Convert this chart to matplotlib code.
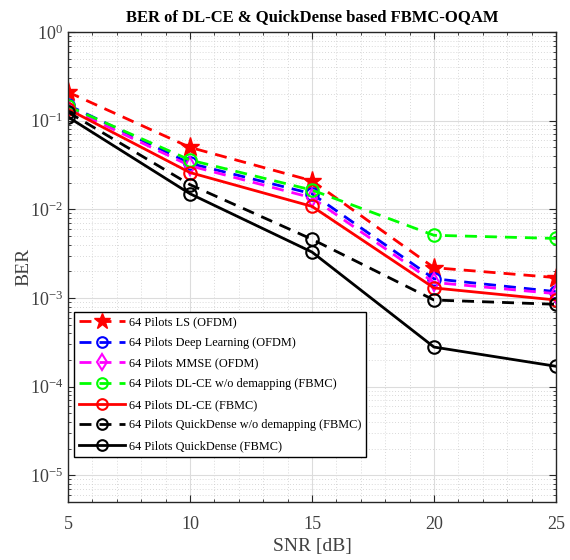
import matplotlib
matplotlib.use("Agg")
import matplotlib.pyplot as plt
from matplotlib.ticker import LogLocator, MultipleLocator, NullFormatter

plt.rcParams['font.family'] = ['Liberation Serif', 'DejaVu Serif']
plt.rcParams['mathtext.fontset'] = 'custom'
plt.rcParams['mathtext.rm'] = 'Liberation Serif'

snr = [5, 10, 15, 20, 25]
ber_ls = [0.21, 0.050, 0.021, 0.0022, 0.0017]
ber_dl = [0.150, 0.033, 0.0150, 0.00165, 0.00118]
ber_mmse = [0.140, 0.031, 0.0135, 0.00150, 0.00112]
ber_dlce_nodemap = [0.145, 0.036, 0.0165, 0.0051, 0.0047]
ber_dlce = [0.135, 0.026, 0.0108, 0.0013, 0.00095]
ber_qd_nodemap = [0.125, 0.019, 0.0046, 0.00095, 0.00085]
ber_qd = [0.110, 0.015, 0.0033, 0.00028, 0.00017]

labels = ['64 Pilots LS (OFDM)',
          '64 Pilots Deep Learning (OFDM)',
          '64 Pilots MMSE (OFDM)',
          '64 Pilots DL-CE w/o demapping (FBMC)',
          '64 Pilots DL-CE (FBMC)',
          '64 Pilots QuickDense w/o demapping (FBMC)',
          '64 Pilots QuickDense (FBMC)']

dash = (4.3, 2.9)

fig = plt.figure(figsize=(5.7, 5.6), dpi=100)
ax = fig.add_axes([68/570, 1 - 502/560, 488/570, 470/560])

ax.semilogy(snr, ber_ls, '--', dashes=dash, color='red', lw=2, marker='*', ms=14,
            mfc='red', mec='red', label=labels[0])
ax.semilogy(snr, ber_dl, '--', dashes=dash, color='blue', lw=2, marker='o', ms=9,
            mfc='none', mew=1.5, label=labels[1])
ax.semilogy(snr, ber_mmse, '--', dashes=dash, color='magenta', lw=2, marker='d', ms=9,
            mfc='none', mew=1.5, label=labels[2])
ax.semilogy(snr, ber_dlce_nodemap, '--', dashes=dash, color='#00ff00', lw=2,
            marker='o', ms=9, mfc='none', mew=1.5, label=labels[3])
ax.semilogy(snr, ber_dlce, '-', color='red', lw=2, marker='o', ms=9,
            mfc='none', mew=1.5, label=labels[4])
ax.semilogy(snr, ber_qd_nodemap, '--', dashes=dash, color='black', lw=2, marker='o',
            ms=9, mfc='none', mew=1.5, label=labels[5])
ax.semilogy(snr, ber_qd, '-', color='black', lw=2, marker='o', ms=9,
            mfc='none', mew=1.5, label=labels[6])

ax.set_xlim(5, 25)
ax.set_ylim(10**-5.3, 1)
ax.set_xticks([5, 10, 15, 20, 25])
ax.xaxis.set_minor_locator(MultipleLocator(1))
ax.yaxis.set_major_locator(LogLocator(base=10, numticks=10))
ax.yaxis.set_minor_locator(LogLocator(base=10, subs=range(2, 10), numticks=20))
ax.yaxis.set_minor_formatter(NullFormatter())

ax.grid(True, which='major', color='#dcdcdc', lw=0.8, ls='-')
ax.grid(True, which='minor', color='#cccccc', lw=0.6, ls=(0, (1, 2.5)))
ax.set_axisbelow(True)

ax.tick_params(which='both', direction='in', top=True, right=True,
               labelsize=13, colors='#262626', labelcolor='#404040')
ax.tick_params(which='major', length=5)
ax.tick_params(which='minor', length=2.5)
for sp in ax.spines.values():
    sp.set_color('#262626')
    sp.set_linewidth(1)
ax.tick_params(axis='x', pad=10)

ax.set_xlabel('SNR [dB]', fontsize=14, color='#404040', labelpad=4)
ax.set_ylabel('BER', fontsize=14, color='#404040', labelpad=-2)
ax.set_title('BER of DL-CE & QuickDense based FBMC-OQAM', fontsize=12,
             fontweight='bold', pad=8)

leg = ax.legend(loc='lower left', bbox_to_anchor=(0.012, 0.096), fontsize=8.8,
                frameon=True, fancybox=False, edgecolor='black', framealpha=1,
                borderpad=0.4, labelspacing=0.7, handlelength=3.8,
                handletextpad=0.3, borderaxespad=0, markerscale=0.85)
leg.get_frame().set_linewidth(1)

fig.savefig('out.png', dpi=100)
